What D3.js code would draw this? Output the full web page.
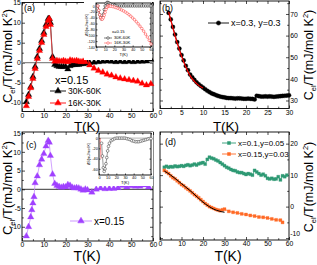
<!DOCTYPE html>
<html>
<head>
<meta charset="utf-8">
<script src="https://cdn.jsdelivr.net/npm/d3@7"></script>
<style>
body { margin: 0; background: #fff; }
svg { display: block; }
</style>
</head>
<body>
<svg id="chart" width="317" height="265"></svg>
<script>
// ---- data ----
// panel (a): x=0.15, two entropy windows
const aBlackT = [2,3,4,5,6,7,8,9,10,11,12,12.5,13,14,15,16,17,18,19,20,21,22,23,24,25,26,27,28,29,30,31,33,35,37,39,41,43,45,47,49,51,53,55,57,59];
const aBlack  = [-9.8,-8,-6,-3.5,-1,1.5,3.5,5.5,7.5,9.5,11,11,10,1.5,-0.5,-0.8,-1,-1,-1,-1,-1.6,-0.8,-0.6,-0.5,-0.5,-0.5,-0.3,-0.3,-0.2,0,0,0.1,0.2,0.3,0.4,0.3,0.2,0.3,0.2,0.3,0.2,0.3,0.3,0.4,0.8];
const aRedT = [2,3,4,5,6,7,8,9,10,11,12,12.5,13,14,15,16,17,18,19,20,21,22,23,24,25,26,27,28,29,30,31,33,35,37,39,41,43,45,47,49,51,53,55,57,59];
const aRed  = [-10.8,-8.5,-6.3,-4,-1.5,1,3,5,7,9,10.5,11,9.5,1,0.3,0.5,0.4,0.3,0.5,0.3,0.2,0.6,0.5,0.4,0.5,0.3,0.2,0.3,0.2,1.3,-0.6,-1.4,-2,-2.4,-2.9,-3.2,-3.6,-3.9,-4.1,-4.3,-4.5,-4.7,-5.2,-5.6,-5.3];
// inset of (a): entropy difference
const insAT = [2,3,4,5,6,7,8,9,10,11,12,13,14,15,16,18,20,22,24,26,28,30,32,34,36,38,40,42,44,46,48,50,52,54,56,58,60];
const insABlack = [0,-15,-30,-40,-45,-40,-28,-12,0,8,12,12,10,8,6,4,2,1,0,0,0,0,0,0,0,0,0,0,0,0,0,0,0,0,0,0,0];
const insARed   = [0,-15,-30,-40,-45,-45,-40,-32,-22,-12,-5,-1,0,0,-1,-2,-4,-6,-8,-11,-14,-17,-21,-25,-30,-35,-41,-47,-54,-61,-69,-77,-86,-96,-106,-117,-130];

// panel (b): x=0.3, y=0.3
const bT = [2,2.5,3,3.5,4,4.5,5,5.5,6,6.5,7,7.5,8,8.5,9,9.5,10,10.5,11,11.5,12,12.5,13,13.5,14,14.5,15,15.5,16,16.5,17,17.5,18,18.5,19,19.5,20,20.5,21,21.5,22,22.5,23,23.5,24,24.5,25,25.5,26,26.5,27,27.5,28,28.5,29,29.5,30];
const bVal = [70.5,67.5,64,60.5,57,54,51,48.5,46,44,42,40.7,39.5,38.4,37.5,36.7,36,35.2,34.5,33.9,33.3,32.9,32.5,32.1,31.8,31.6,31.4,31.2,31.1,31.1,31,30.9,31,31,30.9,30.8,30.8,30.9,30.8,30.7,30.5,32.2,32,31.8,31.8,31.9,31.8,31.9,31.8,31.7,31.8,31.9,32,32.1,32.2,32.3,32.4];
const bFitT = [2,3,4,5,6,7,8,9,10];
const bFit  = [71,63.5,56.5,50.5,45.5,41.5,38.8,37,35.8];

// panel (c): x=0.15
const cT = [2,3,4,4.5,5,5.5,6,7,8,9,10,11,12,12.5,13,14,15,16,17,18,19,20,21,22,23,24,25,26,27,28,29,30,32,34,36,38,40,42,44,46,48,50,52,54,56,58];
const cVal = [-12.5,-10,-7.4,-5.5,-3.7,-2,1.7,3.5,6.5,8,9.5,11.5,13,12.5,9,4,1.5,1,0.7,0.5,0.7,0.6,1.2,1,0.5,0.3,0.4,0.3,0,-0.3,0,-0.2,-0.8,0,0.3,0.1,0.2,0.2,0.4,1,0.6,0.9,0.8,0.8,1.1,0.6];
const insCT = [3,4,5,6,7,8,9,10,11,12,14,16,18,20,22,24,26,28,30,32,34,36,38,40,42,44,46,48,50,52,54,56,58,60];
const insC  = [-10,-35,-58,-65,-60,-50,-38,-25,-16,-10,-5,-3,-1,0,0,0,0,0,0,-1,-2,-3,-5,-6,-7,-7,-7,-6,-5,-4,-3,-2,-1,-1];
const insCRedT = [1.2,2.4];
const insCRed  = [0,-40];

// panel (d)
const dGreenT = [2,3,4,5,6,7,8,9,10,11,12,13,14,15,16,17,18,19,20,21,22,23,24,25,26,27,28,29,30,31,32,33,34,35,36,37,38,39,40,41,42,43,44,45,46,47,48,49,50,51,52,53,54,55,56,57,58,59];
const dGreen  = [12.5,12.8,12.5,12.7,12.6,12.9,12.7,12.8,13,12.8,13.1,13.3,13,13.2,13.5,13.2,13.6,13.8,14,13.5,15,15.7,15.4,15.2,14.8,14.5,14,13.5,13,12.5,12.2,11.8,11.5,11.4,11,10.8,10.8,10.5,10.2,10.5,10.3,10,11.5,11,10.5,10,10.3,9.8,9,8.8,9,8.7,8.8,9.5,8.5,9.8,9.5,10];
const dOrangeT = [2,3,4,5,6,7,8,9,10,11,12,13,14,15,16,17,18,19,20,21,22,23,24,25,26,27,28,29,30,32,34,36,38,40,42,44,46,48,50,52,54,56,57];
const dOrange  = [11.5,11,10.5,9.8,9.2,8.8,8.2,7.6,7,6.6,6,5.5,5,4.4,3.8,3.3,2.8,2.2,1.6,1,0.5,0,-0.3,-0.6,-0.9,-1.1,-1.3,-1,-0.8,-1.5,-1.8,-2,-2.3,-2.5,-2.8,-3,-3.3,-3.4,-3.6,-3.9,-4.2,-4.3,-5];
const dFitT = [2,5,10,15,20,25,30];
const dFit  = [11.3,10,7.3,4.5,1.4,-0.8,-1.8];

// tick labels
const ticksT60 = [0,10,20,30,40,50,60];
const ticksT30 = [0,5,10,15,20,25,30];
const ticksAC = [-10,-5,0,5,10,15];
const ticksB = [30,40,50,60,70];
const ticksD = [-10,0,10,20];

// ---- drawing ----
const font = "'Liberation Sans', Arial, sans-serif";
const svg = d3.select("#chart").attr("font-family", font);

function axisLayer(g, make, pos, values, size, labels, fs) {
  const a = make().tickValues(values).tickSize(-size).tickPadding(1.2)
    .tickFormat(labels ? (d => String(d)) : "");
  const ga = g.append("g").attr("transform", pos).call(a);
  ga.select(".domain").remove();
  ga.attr("font-family", font).attr("font-size", fs);
  ga.selectAll("text").attr("fill", "#000");
  ga.selectAll("line").attr("stroke", "#000").attr("stroke-width", 0.7);
  return ga;
}

function panel(box, xDom, yDom, o) {
  const x = d3.scaleLinear().domain(xDom).range([box.l, box.r]);
  const y = d3.scaleLinear().domain(yDom).range([box.b, box.t]);
  const g = svg.append("g");
  const fs = o.fs || 6.8, ts = o.ts || 3;
  if (o.bg) g.append("rect").attr("x", o.bg[0]).attr("y", o.bg[1]).attr("width", o.bg[2]).attr("height", o.bg[3]).attr("fill", "#fff");
  axisLayer(g, () => d3.axisBottom(x), `translate(0,${box.b})`, o.xTicks, ts, true, fs);
  axisLayer(g, () => d3.axisTop(x), `translate(0,${box.t})`, o.xTicks, ts, false, fs);
  axisLayer(g, () => d3.axisLeft(y), `translate(${box.l},0)`, o.yTicks, ts, o.ySide === "left", fs);
  const right = axisLayer(g, () => d3.axisRight(y), `translate(${box.r},0)`, o.yTicks, ts, o.ySide === "right", fs);
  if (o.xMinor) {
    axisLayer(g, () => d3.axisBottom(x), `translate(0,${box.b})`, o.xMinor, ts * 0.6, false, fs);
    axisLayer(g, () => d3.axisTop(x), `translate(0,${box.t})`, o.xMinor, ts * 0.6, false, fs);
  }
  if (o.yMinor) {
    axisLayer(g, () => d3.axisLeft(y), `translate(${box.l},0)`, o.yMinor, ts * 0.6, false, fs);
    axisLayer(g, () => d3.axisRight(y), `translate(${box.r},0)`, o.yMinor, ts * 0.6, false, fs);
  }
  g.append("rect").attr("x", box.l).attr("y", box.t)
    .attr("width", box.r - box.l).attr("height", box.b - box.t)
    .attr("fill", "none").attr("stroke", "#000").attr("stroke-width", 0.9);
  const data = g.append("g");
  return { x, y, g: data, box, right };
}

function series(p, T, V, o) {
  const pts = T.map((t, i) => [t, V[i]]);
  const line = d3.line().x(d => p.x(d[0])).y(d => p.y(d[1]));
  if (o.curve) line.curve(o.curve);
  p.g.append("path").attr("d", line(pts)).attr("fill", "none")
    .attr("stroke", o.lineColor || o.color).attr("stroke-width", o.lw || 0.8);
  if (!o.symbol) return;
  const sym = d3.symbol().type(o.symbol).size(o.size || 16);
  p.g.selectAll(null).data(pts).enter().append("path")
    .attr("d", sym)
    .attr("transform", d => `translate(${p.x(d[0])},${p.y(d[1])})`)
    .attr("fill", o.open ? "#fff" : o.color)
    .attr("stroke", o.color).attr("stroke-width", o.open ? 0.5 : 0.3);
}

function hline(p, v, color, w) {
  p.g.append("line").attr("x1", p.box.l).attr("x2", p.box.r)
    .attr("y1", p.y(v)).attr("y2", p.y(v))
    .attr("stroke", color).attr("stroke-width", w);
}

function text(x, y, s, fs, anchor, color) {
  return svg.append("text").attr("x", x).attr("y", y).attr("font-size", fs)
    .attr("text-anchor", anchor || "start").attr("fill", color || "#000").text(s);
}

function legendItem(x1, x2, y, label, o) {
  const g = svg.append("g");
  g.append("line").attr("x1", x1).attr("x2", x2).attr("y1", y).attr("y2", y)
    .attr("stroke", o.lineColor || o.color).attr("stroke-width", o.lw || 0.9);
  g.append("path").attr("d", d3.symbol().type(o.symbol).size(o.size || 16))
    .attr("transform", `translate(${(x1 + x2) / 2},${y})`)
    .attr("fill", o.open ? "#fff" : o.color).attr("stroke", o.color).attr("stroke-width", 0.5);
  g.append("text").attr("x", x2 + 2).attr("y", y + o.fs * 0.35).attr("font-size", o.fs).text(label);
}

function yTitle(x, y, fs) {
  const t = svg.append("text").attr("transform", `translate(${x},${y}) rotate(-90)`)
    .attr("text-anchor", "middle").attr("font-size", fs);
  t.append("tspan").text("C");
  t.append("tspan").attr("font-size", fs * 0.6).attr("dy", fs * 0.25).text("el");
  t.append("tspan").attr("dy", -fs * 0.25).text("/T(mJ/mol K");
  t.append("tspan").attr("font-size", fs * 0.6).attr("dy", -fs * 0.4).text("2");
  t.append("tspan").attr("dy", fs * 0.4).text(")");
}

// (a)
const pA = panel({ l: 22, r: 153, t: 2.5, b: 111.5 }, [0, 60], [-12.2, 15.05],
  { xTicks: ticksT60, xMinor: [5,15,25,35,45,55], yTicks: ticksAC, yMinor: [-7.5,-2.5,2.5,7.5,12.5], ySide: "left" });
hline(pA, 0, "#888", 1.2);
series(pA, aBlackT, aBlack, { color: "#000", symbol: d3.symbolTriangle, size: 18 });
series(pA, aRedT, aRed, { color: "#ff0000", lineColor: "#ff4040", symbol: d3.symbolTriangle, size: 18 });
text(24, 11, "(a)", 9);
text(55, 84, "x=0.15", 11);
legendItem(50, 66, 91, "30K-60K", { color: "#000", symbol: d3.symbolTriangle, size: 18, fs: 8.5 });
legendItem(50, 66, 103, "16K-30K", { color: "#ff0000", symbol: d3.symbolTriangle, size: 18, fs: 8.5 });

// inset (a)
const pIA = panel({ l: 96, r: 151, t: 3, b: 47 }, [0, 60], [-140, 10],
  { xTicks: ticksT60, yTicks: [0,-20,-40,-60,-80,-100,-120,-140], ySide: "left", fs: 3.6, ts: 1.5,
    bg: [84, 2, 68, 58] });
series(pIA, insAT, insABlack, { color: "#000", symbol: d3.symbolCircle, size: 5, open: true, lw: 0.5 });
series(pIA, insAT, insARed, { color: "#ff3030", symbol: d3.symbolCircle, size: 5, open: true, lw: 0.5 });
svg.append("text").attr("transform", "translate(88,25) rotate(-90)").attr("text-anchor", "middle")
  .attr("font-size", 3.6).text("ΔS(mJ/mol K)");
text(123.5, 55.5, "T(K)", 4.2, "middle");
text(112, 33, "x=0.15", 4.2);
legendItem(104, 112, 38, "30K-60K", { color: "#000", symbol: d3.symbolCircle, size: 5, open: true, fs: 4.2, lw: 0.5 });
legendItem(104, 112, 43, "16K-30K", { color: "#ff3030", symbol: d3.symbolCircle, size: 5, open: true, fs: 4.2, lw: 0.5 });

// (b)
const pB = panel({ l: 160, r: 289, t: 1, b: 108.5 }, [0, 30], [26.3, 76],
  { xTicks: ticksT30, xMinor: [2.5,7.5,12.5,17.5,22.5,27.5], yTicks: ticksB, yMinor: [35,45,55,65,75], ySide: "right" });
series(pB, bT, bVal, { color: "#000", symbol: d3.symbolCircle, size: 14 });
series(pB, bFitT, bFit, { color: "#ff0000", lw: 1.2, curve: d3.curveMonotoneX });
text(162, 11, "(b)", 9);
legendItem(208, 229, 23, "x=0.3, y=0.3", { color: "#000", symbol: d3.symbolCircle, size: 14, fs: 9 });

// (c)
const pC = panel({ l: 22, r: 153, t: 132, b: 241 }, [0, 60], [-13.8, 15.3],
  { xTicks: ticksT60, xMinor: [5,15,25,35,45,55], yTicks: ticksAC, yMinor: [-12.5,-7.5,-2.5,2.5,7.5,12.5], ySide: "left" });
hline(pC, 0, "#000", 0.8);
series(pC, cT, cVal, { color: "#a040ff", lineColor: "#c58aff", symbol: d3.symbolTriangle, size: 18 });
text(26, 148, "(c)", 9);
legendItem(70, 92, 221, "x=0.15", { color: "#a040ff", lineColor: "#c58aff", symbol: d3.symbolTriangle, size: 18, fs: 10 });

// inset (c)
const pIC = panel({ l: 99, r: 151, t: 133, b: 175 }, [0, 60], [-72, 10],
  { xTicks: ticksT60, yTicks: [0,-20,-40,-60], ySide: "left", fs: 3.8, ts: 1.5, bg: [86, 132, 67, 54] });
hline(pIC, 0, "#666", 0.5);
series(pIC, insCRedT, insCRed, { color: "#ff3030", lw: 0.6 });
series(pIC, insCT, insC, { color: "#333", symbol: d3.symbolCircle, size: 6, open: true, lw: 0.5 });
svg.append("text").attr("transform", "translate(90,154) rotate(-90)").attr("text-anchor", "middle")
  .attr("font-size", 3.6).text("ΔS(mJ/mol K)");
text(125, 184, "T(K)", 4.2, "middle");

// (d)
const pD = panel({ l: 160, r: 289, t: 132, b: 240 }, [0, 60], [-10.6, 23.7],
  { xTicks: ticksT60, xMinor: [5,15,25,35,45,55], yTicks: ticksD, yMinor: [-5,5,15], ySide: "right" });
// the bottom right label sits a little higher, clear of the "60"
pD.right.selectAll(".tick text").filter(d => d === -10).attr("dy", "-0.35em");
series(pD, dGreenT, dGreen, { color: "#2e9a74", symbol: d3.symbolSquare, size: 9 });
series(pD, dOrangeT, dOrange, { color: "#ff6a26", symbol: d3.symbolSquare, size: 9 });
series(pD, dFitT, dFit, { color: "#000", lw: 1, curve: d3.curveMonotoneX });
text(165, 145, "(d)", 9);
legendItem(222, 236, 143, "x=0.1,y=0.05", { color: "#2e9a74", symbol: d3.symbolSquare, size: 9, fs: 8 });
legendItem(222, 236, 154, "x=0.15,y=0.03", { color: "#ff6a26", symbol: d3.symbolSquare, size: 9, fs: 8 });

// axis titles
yTitle(12, 56, 13);
yTitle(12, 188, 13);
yTitle(313, 55, 12.5);
yTitle(313, 187, 12.5);
text(87, 130.5, "T(K)", 13.5, "middle");
text(226, 130.5, "T(K)", 13.5, "middle");
text(87, 261, "T(K)", 14, "middle");
text(228, 261, "T(K)", 14, "middle");
</script>
</body>
</html>
